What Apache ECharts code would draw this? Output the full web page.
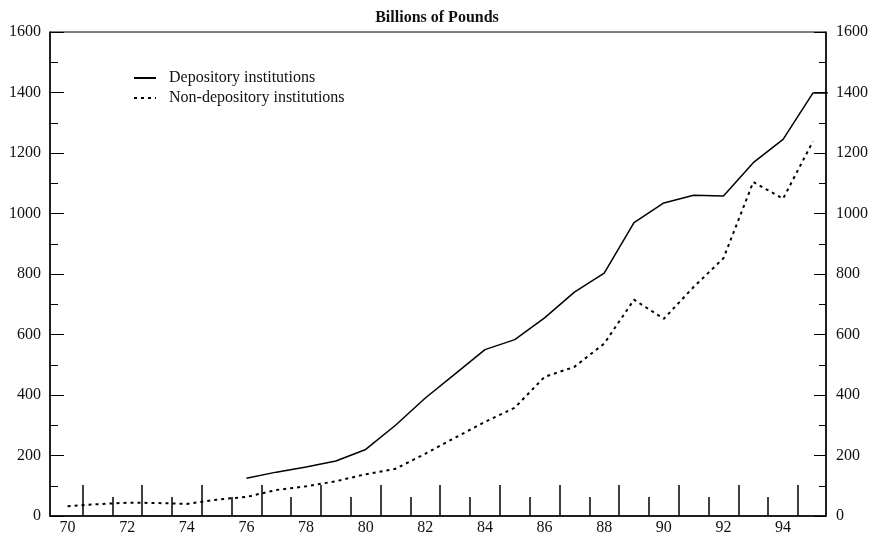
<!DOCTYPE html>
<html>
<head>
<meta charset="utf-8">
<script src="https://cdn.jsdelivr.net/npm/echarts@6/dist/echarts.min.js"></script>
<style>
  html, body { margin: 0; padding: 0; background: #fff; }
  #chart_box { width: 874px; height: 537px; }
</style>
</head>
<body>
<div id="chart_box"></div>
<script>
// values (billions of pounds)
var depYears = [76, 77, 78, 79, 80, 81, 82, 83, 84, 85, 86, 87, 88, 89, 90, 91, 92, 93, 94, 95, 95.5]
var depository = [125, 145, 162, 182, 220, 300, 390, 470, 550, 583, 655, 740, 803, 970, 1035, 1060, 1058, 1168, 1245, 1398, 1398]
var nonYears = [70, 71, 72, 73, 74, 75, 76, 77, 78, 79, 80, 81, 82, 83, 84, 85, 86, 87, 88, 89, 90, 91, 92, 93, 94, 95]
var nonDepository = [32, 39, 44, 43, 40, 54, 63, 86, 98, 115, 138, 156, 206, 259, 311, 358, 460, 493, 570, 715, 652, 757, 852, 1104, 1049, 1238]
var yTicks = [0, 1600, 200]

var font = 'Liberation Serif'
var xMin = 69.41
var xMax = 95.44
var gridLeft = 50
var gridRight = 48
var gridTop = 32
var gridBottom = 21
var plotW = 874 - gridLeft - gridRight
var pxPerYear = plotW / (xMax - xMin)

function pairs(xs, ys) {
  return xs.map(function(x, i) { return [x, ys[i]] })
}

var myChart = echarts.init(document.getElementById('chart_box'))
var option = {
  animation: false,
  title: {
    text: 'Billions of Pounds',
    left: 'center',
    top: 5,
    textStyle: { fontFamily: font, fontSize: 16, fontWeight: 'bold', color: '#111' }
  },
  legend: {
    orient: 'vertical',
    left: 128,
    top: 65,
    itemWidth: 22,
    itemHeight: 14,
    itemGap: 4,
    itemStyle: { color: 'rgba(0,0,0,0)', borderWidth: 0, opacity: 0 },
    textStyle: { fontFamily: font, fontSize: 16, color: '#111', padding: [0, 0, 0, 8] },
    data: ['Depository institutions', 'Non-depository institutions']
  },
  grid: [
    {
      left: gridLeft, right: gridRight, top: gridTop, bottom: gridBottom,
      show: true, borderColor: '#000', borderWidth: 1
    },
    // grid only for the half-year tick marks along the bottom
    {
      left: gridLeft + (70.5 - xMin) * pxPerYear,
      right: gridRight + (xMax - 94.5) * pxPerYear,
      top: gridTop, bottom: gridBottom, show: false
    }
  ],
  xAxis: [
    {
      type: 'value',
      gridIndex: 0,
      min: xMin,
      max: xMax,
      splitNumber: 13,
      minInterval: 2,
      maxInterval: 2,
      axisLine: { lineStyle: { color: '#000', width: 1.5 } },
      axisTick: { show: false },
      splitLine: { show: false },
      axisLabel: {
        showMinLabel: false,
        showMaxLabel: false,
        margin: 4,
        fontFamily: font,
        fontSize: 16,
        color: '#111',
        formatter: function(v) { return Number.isInteger(v) ? String(v) : '' }
      }
    },
    {
      type: 'value',
      gridIndex: 1,
      min: 0,
      max: 24,
      interval: 2,
      axisLine: { show: false },
      axisLabel: { show: false },
      splitLine: { show: false },
      axisTick: { show: true, inside: true, length: 31, lineStyle: { color: '#000', width: 1.5 } },
      minorTick: { show: true, splitNumber: 2, length: 19, lineStyle: { color: '#000', width: 1.5 } }
    }
  ],
  yAxis: [
    {
      type: 'value',
      gridIndex: 0,
      position: 'left',
      min: yTicks[0],
      max: yTicks[1],
      interval: yTicks[2],
      axisLine: { show: true, lineStyle: { color: '#000', width: 1.5 } },
      axisTick: { show: true, inside: true, length: 14, lineStyle: { color: '#000' } },
      minorTick: { show: true, splitNumber: 2, length: 8, lineStyle: { color: '#000' } },
      splitLine: { show: false },
      axisLabel: {
        margin: 9, fontFamily: font, fontSize: 16, color: '#111',
        formatter: function(v) { return String(v) }
      }
    },
    {
      type: 'value',
      gridIndex: 0,
      position: 'right',
      min: yTicks[0],
      max: yTicks[1],
      interval: yTicks[2],
      axisLine: { show: true, lineStyle: { color: '#000', width: 1.5 } },
      axisTick: { show: true, inside: true, length: 12, lineStyle: { color: '#000' } },
      minorTick: { show: true, splitNumber: 2, length: 7, lineStyle: { color: '#000' } },
      splitLine: { show: false },
      axisLabel: {
        margin: 10, fontFamily: font, fontSize: 16, color: '#111',
        formatter: function(v) { return String(v) }
      }
    },
    {
      type: 'value',
      gridIndex: 1,
      min: 0,
      max: 1,
      show: false
    }
  ],
  series: [
    {
      name: 'Depository institutions',
      type: 'line',
      xAxisIndex: 0,
      yAxisIndex: 0,
      symbol: 'none',
      clip: true,
      lineStyle: { color: '#000', width: 1.5, type: 'solid' },
      itemStyle: { color: '#000' },
      data: pairs(depYears, depository)
    },
    {
      name: 'Non-depository institutions',
      type: 'line',
      xAxisIndex: 0,
      yAxisIndex: 0,
      symbol: 'none',
      clip: true,
      lineStyle: { color: '#000', width: 2, type: [3, 4] },
      itemStyle: { color: '#000' },
      data: pairs(nonYears, nonDepository)
    }
  ]
}
option && myChart.setOption(option)
</script>
</body>
</html>
